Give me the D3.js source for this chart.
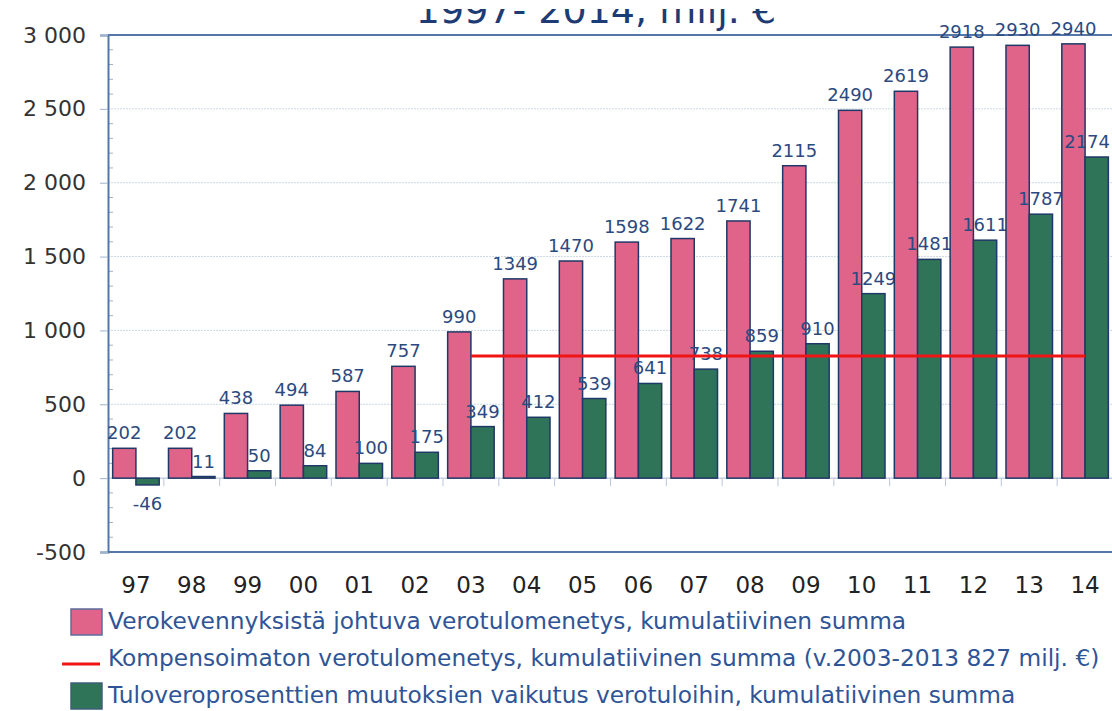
<!DOCTYPE html>
<html>
<head>
<meta charset="utf-8">
<script src="https://cdn.jsdelivr.net/npm/d3@7"></script>
<style>
  body { margin: 0; background: #fff; }
  svg { display: block; font-family: "DejaVu Sans", Verdana, sans-serif; }
</style>
</head>
<body>
<div id="chart"></div>
<script>
const years = ["97", "98", "99", "00", "01", "02", "03", "04", "05", "06", "07", "08", "09", "10", "11", "12", "13", "14"];
const taxCuts = [202, 202, 438, 494, 587, 757, 990, 1349, 1470, 1598, 1622, 1741, 2115, 2490, 2619, 2918, 2930, 2940];
const rateChanges = [-46, 11, 50, 84, 100, 175, 349, 412, 539, 641, 738, 859, 910, 1249, 1481, 1611, 1787, 2174];
const uncompensatedSpan = ["03", "14"];
const uncompensatedValue = 827;
const yTicks = [-500, 0, 500, 1000, 1500, 2000, 2500, 3000];
const titleText = "1997- 2014, milj. €";
const legendLabels = [
  "Verokevennyksistä johtuva verotulomenetys, kumulatiivinen summa",
  "Kompensoimaton verotulomenetys, kumulatiivinen summa (v.2003-2013 827 milj. €)",
  "Tuloveroprosenttien muutoksien vaikutus verotuloihin, kumulatiivinen summa"
];

const width = 1112, height = 711;
const margin = {top: 35, right: -1, bottom: 159, left: 108};
const pink = "#e0648a", green = "#2f7459", outline = "#1f3866";
const labelColor = "#2b4a80", legendColor = "#2f5597", axisColor = "#5577a8";

const svg = d3.select("#chart").append("svg")
    .attr("width", width)
    .attr("height", height);

const fi = d3.formatLocale({decimal: ",", thousands: " ", grouping: [3], currency: ["", " €"], minus: "-"});
const fmtTick = fi.format(",");

let x = d3.scaleBand()
    .domain(years)
    .range([margin.left, width - margin.right])
    .padding(0);

let xSub = d3.scaleBand()
    .domain(["cuts", "rates"])
    .range([0, x.bandwidth()])
    .paddingInner(0)
    .paddingOuter(0.2);

let y = d3.scaleLinear()
    .domain([-500, 3000])
    .range([height - margin.bottom, margin.top]);

// title, only its lower part shows in the picture
svg.append("clipPath")
    .attr("id", "titleClip")
    .append("rect")
    .attr("x", 0).attr("y", 9).attr("width", width).attr("height", 25);

svg.append("text")
    .attr("clip-path", "url(#titleClip)")
    .attr("x", 596)
    .attr("y", 23)
    .attr("text-anchor", "middle")
    .style("font-size", "38px")
    .style("fill", "#1f3b73")
    .text(titleText);

// gridlines
svg.append("g")
    .selectAll("line")
    .data(yTicks.filter(d => d > -500 && d < 3000))
    .join("line")
    .attr("x1", margin.left)
    .attr("x2", width)
    .attr("y1", d => y(d))
    .attr("y2", d => y(d))
    .attr("stroke", "#cdd8e6")
    .attr("stroke-dasharray", "2,1");

// minor ticks inside the axis
svg.append("g")
    .selectAll("line")
    .data(d3.range(-500, 3001, 100).filter(d => d % 500 !== 0))
    .join("line")
    .attr("x1", margin.left)
    .attr("x2", margin.left + 5)
    .attr("y1", d => y(d))
    .attr("y2", d => y(d))
    .attr("stroke", "#9fb3cf");

// category ticks on the zero line
svg.append("g")
    .selectAll("line")
    .data(years.slice(1))
    .join("line")
    .attr("x1", d => x(d))
    .attr("x2", d => x(d))
    .attr("y1", y(0))
    .attr("y2", y(0) + 8)
    .attr("stroke", "#b8c6da");

svg.append("line")
    .attr("x1", margin.left).attr("x2", width)
    .attr("y1", y(0)).attr("y2", y(0))
    .attr("stroke", "#b8c6da");

// y axis
let yAxis = svg.append("g")
    .attr("transform", `translate(${margin.left},0)`)
    .call(d3.axisLeft(y).tickValues(yTicks).tickFormat(fmtTick).tickSize(8).tickPadding(14));
yAxis.select(".domain").attr("stroke", axisColor).attr("stroke-width", 2);
yAxis.selectAll(".tick line").attr("stroke", "#9fb3cf");
yAxis.selectAll(".tick text")
    .style("font-size", "22px")
    .style("font-family", "DejaVu Sans, Verdana, sans-serif")
    .attr("fill", "#333");

// frame top / bottom
svg.append("line")
    .attr("x1", margin.left).attr("x2", width)
    .attr("y1", y(3000)).attr("y2", y(3000))
    .attr("stroke", axisColor).attr("stroke-width", 2);
svg.append("line")
    .attr("x1", margin.left).attr("x2", width)
    .attr("y1", y(-500)).attr("y2", y(-500))
    .attr("stroke", axisColor).attr("stroke-width", 2);

// x labels
svg.append("g")
    .selectAll("text")
    .data(years)
    .join("text")
    .attr("x", d => x(d) + x.bandwidth() / 2)
    .attr("y", y(-500) + 41)
    .attr("text-anchor", "middle")
    .style("font-size", "23px")
    .attr("fill", "#222")
    .text(d => d);

// bars
let rows = years.map((yr, i) => ({year: yr, cuts: taxCuts[i], rates: rateChanges[i]}));

let groups = svg.append("g")
    .selectAll("g")
    .data(rows)
    .join("g")
    .attr("transform", d => `translate(${x(d.year)},0)`);

groups.append("rect")
    .attr("x", xSub("cuts"))
    .attr("width", xSub.bandwidth())
    .attr("y", d => y(Math.max(0, d.cuts)))
    .attr("height", d => Math.abs(y(d.cuts) - y(0)))
    .attr("fill", pink)
    .attr("stroke", outline)
    .attr("stroke-width", 1.5);

groups.append("rect")
    .attr("x", xSub("rates"))
    .attr("width", xSub.bandwidth())
    .attr("y", d => y(Math.max(0, d.rates)))
    .attr("height", d => Math.abs(y(d.rates) - y(0)))
    .attr("fill", green)
    .attr("stroke", outline)
    .attr("stroke-width", 1.5);

// uncompensated loss line
svg.append("line")
    .attr("x1", x(uncompensatedSpan[0]) + x.bandwidth() / 2)
    .attr("x2", x(uncompensatedSpan[1]) + x.bandwidth() / 2)
    .attr("y1", y(uncompensatedValue))
    .attr("y2", y(uncompensatedValue))
    .attr("stroke", "#f01414")
    .attr("stroke-width", 3);

// value labels
groups.append("text")
    .attr("x", xSub("cuts") + xSub.bandwidth() / 2)
    .attr("y", d => y(d.cuts) - 9)
    .attr("text-anchor", "middle")
    .style("font-size", "18px")
    .attr("fill", labelColor)
    .text(d => d.cuts);

groups.append("text")
    .attr("x", xSub("rates") + xSub.bandwidth() / 2)
    .attr("y", d => d.rates < 0 ? y(d.rates) + 25 : y(d.rates) - 9)
    .attr("text-anchor", "middle")
    .style("font-size", "18px")
    .attr("fill", labelColor)
    .text(d => d.rates)
    .each(function(d) {
        // keep the last label inside the picture
        let box = this.getBBox();
        let right = x(d.year) + box.x + box.width;
        if (right > width - 2) d3.select(this).attr("x", +d3.select(this).attr("x") - (right - width + 2));
    });

// legend
let legend = svg.append("g");
legend.append("rect")
    .attr("x", 71).attr("y", 609).attr("width", 31).attr("height", 26)
    .attr("fill", pink).attr("stroke", "#5a6e9a").attr("stroke-width", 1.5);
legend.append("line")
    .attr("x1", 62).attr("x2", 100).attr("y1", 664).attr("y2", 664)
    .attr("stroke", "#f01414").attr("stroke-width", 3);
legend.append("rect")
    .attr("x", 71).attr("y", 683).attr("width", 31).attr("height", 26)
    .attr("fill", green).attr("stroke", "#3f5e7a").attr("stroke-width", 1.5);

legend.selectAll("text")
    .data(legendLabels)
    .join("text")
    .attr("x", 108)
    .attr("y", (d, i) => [629, 666, 703][i])
    .style("font-size", "23.3px")
    .attr("fill", legendColor)
    .text(d => d);
</script>
</body>
</html>
